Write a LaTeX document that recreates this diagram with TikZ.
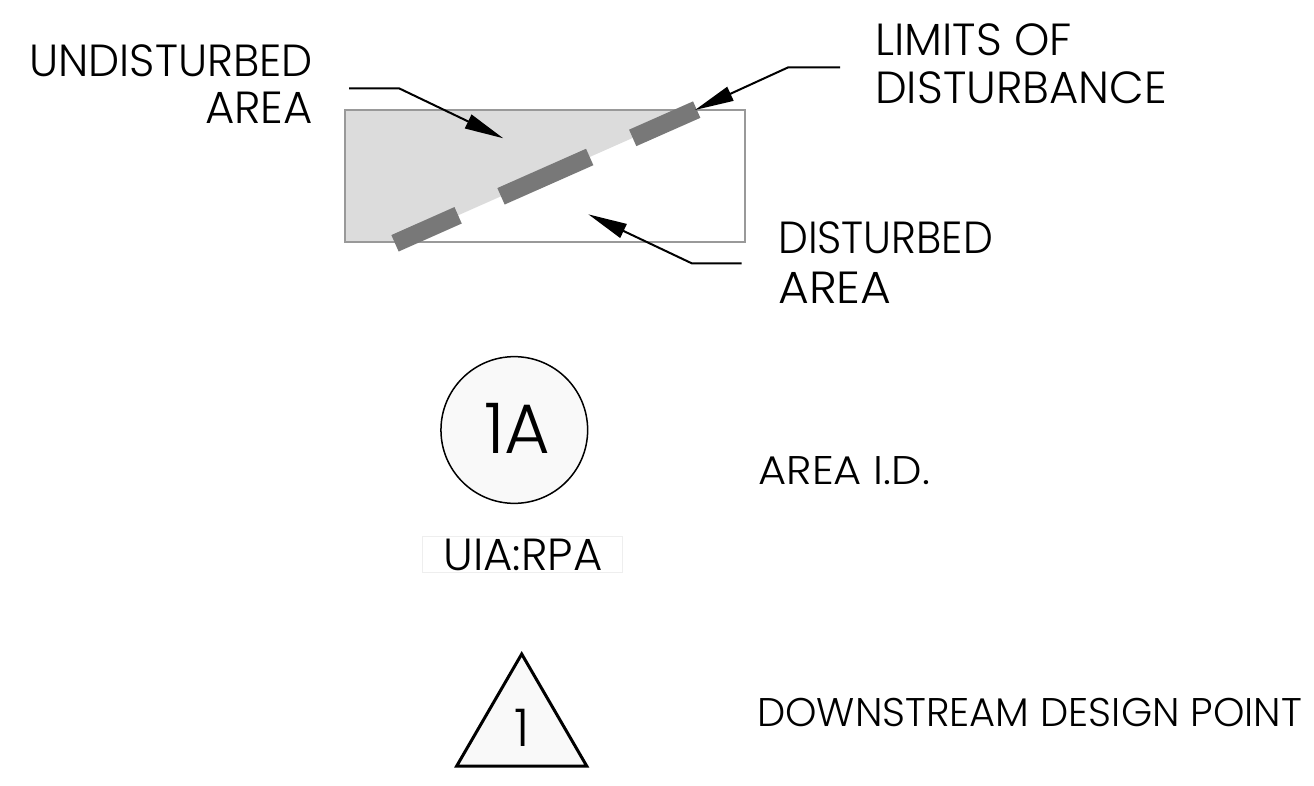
\documentclass[tikz,border=0pt]{standalone}
\usepackage{fontspec}
\setmainfont{Poppins Light}
\usetikzlibrary{arrows.meta}
\definecolor{areagray}{RGB}{220,220,220}
\definecolor{dashgray}{RGB}{120,120,120}
\definecolor{rimgray}{RGB}{153,153,153}
\definecolor{paleface}{RGB}{249,249,249}
\definecolor{faintbox}{RGB}{238,238,238}
\tikzset{
  lbl/.style={inner sep=0pt, font=\fontsize{45}{54}\selectfont},
  lblsmall/.style={inner sep=0pt, font=\fontsize{40}{48}\selectfont},
  leader/.style={line width=2pt, -{Triangle[length=39pt,width=15pt]}},
  lod/.style={line width=18pt, dashgray, line cap=butt},
}
\begin{document}
\begin{tikzpicture}[x=1pt,y=-1pt]
\useasboundingbox (0,0) rectangle (1314,786);
% area rectangle
\fill[white] (345,110) rectangle (745,242);
\fill[areagray] (345,110) -- (695.7,110) -- (397.9,242) -- (345,242) -- cycle;
\draw[rimgray, line width=1.5pt] (345,110) rectangle (745,242);
% limits of disturbance dashes
\draw[lod] (395,243.3) -- (458.1,215.3);
\draw[lod] (501.0,196.3) -- (589.7,157.0);
\draw[lod] (632.7,137.9) -- (696.7,109.6);
% labels
\node[lbl, anchor=base east, xscale=0.98] (und1) at (313,76.7) {UNDISTURBED};
\node[lbl, anchor=base east] (und2) at (313,124) {AREA};
\node[lbl, anchor=base west] (lim1) at (875,56) {LIMITS OF};
\node[lbl, anchor=base west] (lim2) at (875,104) {DISTURBANCE};
\node[lbl, anchor=base west, xscale=0.94] (dis1) at (778,254) {DISTURBED};
\node[lbl, anchor=base west, xscale=1.05] (dis2) at (778,304) {AREA};
% leaders
\coordinate (undA) at (349,88.3);
\coordinate (undB) at (399,88.3);
\coordinate (undTip) at (503.3,138.3);
\draw[leader] (undA) -- (undB) -- (undTip);
\coordinate (limA) at (840,67.3);
\coordinate (limB) at (788.3,67.3);
\coordinate (limTip) at (695,110);
\draw[leader] (limA) -- (limB) -- (limTip);
\coordinate (disA) at (741.7,263.3);
\coordinate (disB) at (691.7,263.3);
\coordinate (disTip) at (588.3,214.3);
\draw[leader] (disA) -- (disB) -- (disTip);
% area id
\node[circle, draw=black, fill=paleface, line width=1.5pt, minimum size=146.7pt, inner sep=0pt] (circ) at (514.3,430) {};
\node[inner sep=0pt, anchor=base, font=\fontsize{70}{76}\selectfont] (cid) at (517.5,453.3) {1A};
\node[draw=faintbox, fill=white, line width=1pt, minimum width=200pt, minimum height=35.6pt, inner sep=0pt] (uiabox) at (522.3,554.5) {};
\node[inner sep=0pt, anchor=base, font=\fontsize{45}{50}\selectfont] (uia) at (523,570) {UIA:RPA};
\node[lblsmall, anchor=base west, xscale=1.08] (aid) at (758.3,484) {AREA I.D.};
% design point
\coordinate (triA) at (521.7,654);
\coordinate (triL) at (456.7,766);
\coordinate (triR) at (586.7,766);
\draw[line width=3pt, fill=paleface, line join=miter] (triA) -- (triR) -- (triL) -- cycle;
\node[inner sep=0pt, anchor=base, font=\fontsize{52}{60}\selectfont] (dp) at (521.7,746.7) {1};
\node[lblsmall, anchor=base west] (dpl) at (757,726) {DOWNSTREAM DESIGN POINT};
\end{tikzpicture}
\end{document}
